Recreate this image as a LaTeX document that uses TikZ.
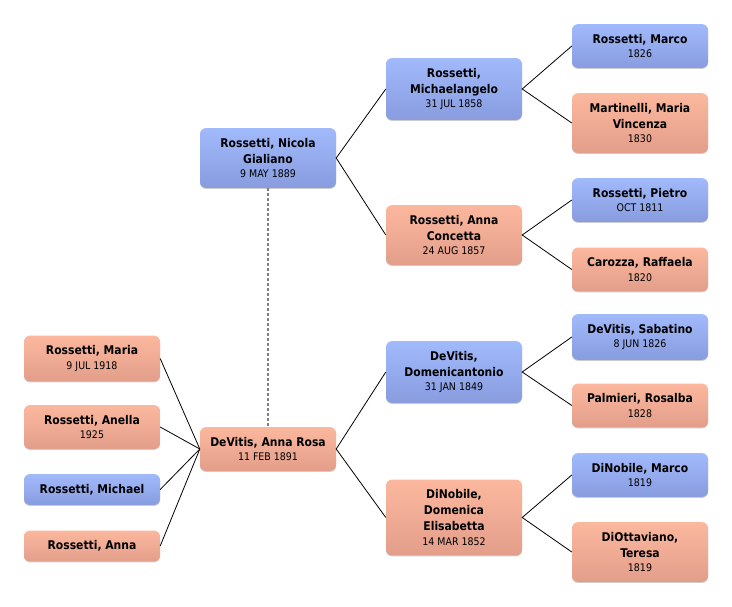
\documentclass[tikz,border=0pt]{standalone}
\usepackage{fontspec}
\setmainfont{DejaVu Sans Condensed}
\usetikzlibrary{shadows}
\definecolor{mtop}{RGB}{161,186,252}
\definecolor{mbot}{RGB}{136,156,222}
\definecolor{ftop}{RGB}{252,184,158}
\definecolor{fbot}{RGB}{226,158,138}
\newcommand{\dt}[1]{\\[-1.5pt]{\fontsize{10.5}{12}\mdseries\selectfont #1}}
\begin{document}
\begin{tikzpicture}[x=1pt,y=-1pt,
    person/.style={rounded corners=6pt,minimum width=136pt,inner ysep=10pt,align=center,
      font=\fontsize{12}{16}\bfseries\selectfont,
      drop shadow={shadow xshift=0pt,shadow yshift=-1pt,opacity=0.2,fill=black}},
    male/.style={person,top color=mtop,bottom color=mbot},
    female/.style={person,top color=ftop,bottom color=fbot},
    link/.style={black,line width=0.8pt}]
    \useasboundingbox (0,0) rectangle (732,606);
    \node[male] (nicola) at (268,158) {Rossetti, Nicola\\Gialiano\dt{9 MAY 1889}};
    \node[female] (annarosa) at (268,449) {DeVitis, Anna Rosa\dt{11 FEB 1891}};
    \node[male] (michaelangelo) at (454,89) {Rossetti,\\Michaelangelo\dt{31 JUL 1858}};
    \node[female] (concetta) at (454,235) {Rossetti, Anna\\Concetta\dt{24 AUG 1857}};
    \node[male] (domenicantonio) at (454,372) {DeVitis,\\Domenicantonio\dt{31 JAN 1849}};
    \node[female] (domenica) at (454,517.5) {DiNobile,\\Domenica\\Elisabetta\dt{14 MAR 1852}};
    \node[male] (marco) at (640,46) {Rossetti, Marco\dt{1826}};
    \node[female] (martinelli) at (640,123) {Martinelli, Maria\\Vincenza\dt{1830}};
    \node[male] (pietro) at (640,200) {Rossetti, Pietro\dt{OCT 1811}};
    \node[female] (carozza) at (640,269.5) {Carozza, Raffaela\dt{1820}};
    \node[male] (sabatino) at (640,337) {DeVitis, Sabatino\dt{8 JUN 1826}};
    \node[female] (palmieri) at (640,405.5) {Palmieri, Rosalba\dt{1828}};
    \node[male] (dinmarco) at (640,475) {DiNobile, Marco\dt{1819}};
    \node[female] (diottaviano) at (640,552) {DiOttaviano,\\Teresa\dt{1819}};
    \node[female] (maria) at (92,358.5) {Rossetti, Maria\dt{9 JUL 1918}};
    \node[female] (anella) at (92,427) {Rossetti, Anella\dt{1925}};
    \node[male] (michael) at (92,489.5) {Rossetti, Michael};
    \node[female] (anna) at (92,546) {Rossetti, Anna};
    \draw[gray,line width=1.6pt,dash pattern=on 3pt off 2pt] (nicola) -- (annarosa);
    \draw[link] (michaelangelo.west) -- (nicola.east) -- (concetta.west);
    \draw[link] (domenicantonio.west) -- (annarosa.east) -- (domenica.west);
    \draw[link] (marco.west) -- (michaelangelo.east) -- (martinelli.west);
    \draw[link] (pietro.west) -- (concetta.east) -- (carozza.west);
    \draw[link] (sabatino.west) -- (domenicantonio.east) -- (palmieri.west);
    \draw[link] (dinmarco.west) -- (domenica.east) -- (diottaviano.west);
    \foreach \c in {maria,anella,michael,anna}
        \draw[link] (\c.east) -- (annarosa.west);
\end{tikzpicture}
\end{document}
